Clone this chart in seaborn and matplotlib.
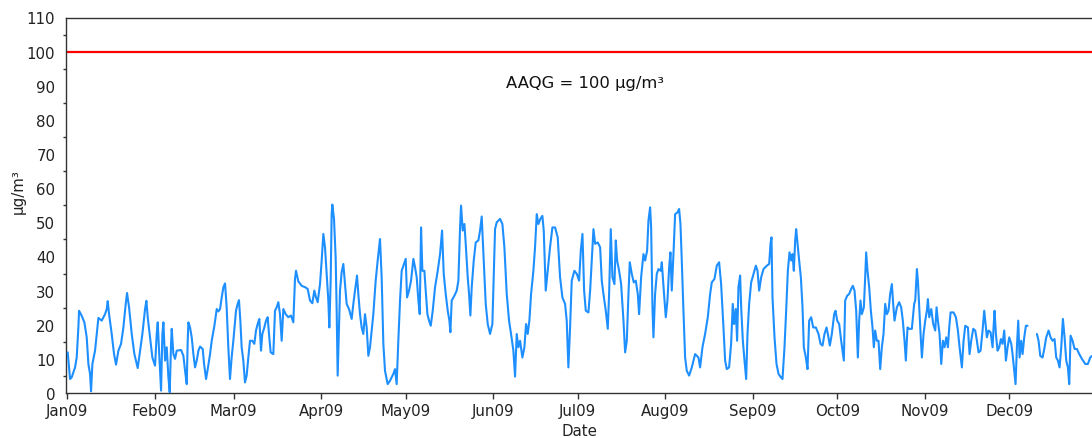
import numpy as np
import pandas as pd
import matplotlib
matplotlib.use("Agg")
import matplotlib.pyplot as plt
import matplotlib.dates as mdates
from matplotlib.ticker import MultipleLocator
import seaborn as sns

year_start = pd.Timestamp("2009-01-01")

# Day of year (0 = 1 Jan 2009, 00:00) and 24-hour mean concentration in µg/m³.
# A NaN marks the stretch in December with no valid readings.
day_of_year = [
    0.13, 0.96, 1.55, 2.73, 3.32, 3.91, 4.15, 5.10, 6.04, 6.87, 7.46, 8.05, 8.41, 8.88,
    9.82, 10.65, 11.01, 12.19, 13.37, 13.96, 14.32, 14.79, 15.73, 16.56, 17.27, 18.10,
    19.04, 19.87, 20.70, 21.17, 21.88, 22.83, 23.77, 24.95, 25.78, 26.61, 27.55, 28.03,
    28.50, 29.33, 30.15, 31.10, 31.69, 32.05, 32.52, 33.23, 33.70, 34.06, 34.65, 35.24,
    35.83, 36.30, 36.77, 37.01, 37.60, 38.19, 38.78, 40.32, 41.15, 41.74, 42.33, 42.68,
    42.92, 43.51, 44.10, 44.69, 45.28, 45.88, 46.47, 47.06, 48.00, 48.48, 49.18, 49.78,
    50.60, 51.19, 52.14, 52.97, 53.56, 54.15, 54.74, 55.33, 55.92,
    56.49, 57.08, 57.67, 58.26, 58.86, 59.80, 60.39, 60.86, 61.34, 61.81, 62.40, 62.99,
    63.58, 64.17, 64.77, 65.59, 66.30, 66.89, 67.48, 68.07, 68.67, 69.14, 69.85, 70.44,
    71.03, 71.50, 72.09, 73.04, 73.63, 74.22, 74.81, 75.40, 76.00, 76.59, 77.41, 78.36,
    79.30, 80.13, 80.72, 81.08, 81.90, 83.09, 84.27, 85.21, 86.04, 86.87, 87.58, 88.17,
    88.76, 89.59, 90.18, 90.77, 91.36, 91.95, 92.54, 92.90, 93.37, 93.72, 93.96, 94.55,
    95.14, 95.50, 95.85, 96.32, 96.68, 97.27, 97.86, 98.45, 99.04, 99.87, 100.82, 101.41,
    102.00, 102.71, 103.18, 103.77, 104.36, 104.95, 105.54, 106.14, 106.73, 107.32,
    107.91, 108.50, 109.33, 110.04, 110.86, 111.45, 112.05, 112.64, 113.58, 114.41,
    115.59, 116.18, 116.77, 117.36, 117.96, 118.55,
    119.16, 119.98, 120.46, 121.16, 121.87, 122.70, 123.29, 123.88, 124.47, 124.95,
    125.42, 125.89, 126.60, 127.07, 127.67, 128.26, 128.85, 129.56, 130.38, 131.33,
    132.16, 132.87, 133.46, 134.17, 134.88, 135.47, 135.82, 136.29, 137.24, 138.07,
    138.66, 139.25, 139.60, 140.19, 140.79, 141.26, 141.97, 142.44, 142.91, 143.39,
    144.10, 144.80, 145.75, 146.34, 146.93, 147.29, 147.88, 148.35, 149.06, 149.89,
    150.71, 151.19, 151.66, 152.25, 153.43, 154.26, 154.97, 155.80, 156.62, 157.33,
    158.16, 158.75, 159.34, 159.93, 160.53, 161.35, 162.06, 162.65, 163.24, 163.83,
    164.43, 165.25, 165.84, 166.44, 167.03, 167.74, 168.44, 168.92, 169.63, 170.34,
    171.16, 171.99, 172.94, 173.88, 174.71, 175.54, 176.48, 177.07, 177.66, 178.26,
    178.85, 179.79,
    180.64, 181.46, 182.06, 182.65, 183.24, 183.83, 184.77, 185.37, 185.96, 186.55,
    187.14, 188.08, 188.91, 189.50, 190.09, 190.92, 191.63, 192.10, 192.69, 193.28,
    193.99, 194.47, 194.94, 195.65, 196.36, 197.19, 197.78, 198.37, 198.96, 199.43,
    200.14, 200.85, 201.56, 202.27, 202.74, 203.45, 204.28, 204.87, 205.58, 206.05,
    206.64, 207.00, 207.47, 207.82, 208.41, 209.01, 209.60, 210.42, 210.78, 211.49,
    212.20, 212.79, 213.38, 213.85, 214.32, 214.92, 215.51, 216.33, 216.92, 217.40,
    217.87, 218.46, 219.05, 219.64, 220.47, 221.42, 222.60, 223.78, 224.37, 225.20,
    226.14, 227.09, 227.92, 228.51, 229.45, 230.28, 231.11, 231.82, 232.65, 233.24,
    233.83, 234.65, 235.36, 235.95, 236.43, 237.02, 237.49, 237.96, 238.56,
    238.93, 239.52, 240.11, 240.70, 241.17, 241.76, 242.47, 243.30, 244.13, 244.72,
    245.31, 246.02, 246.85, 248.03, 248.86, 249.33, 249.68, 250.04, 250.75, 251.46,
    252.17, 252.99, 253.58, 254.29, 254.88, 255.48, 256.07, 256.66, 257.13, 257.60,
    258.08, 258.43, 259.02, 259.49, 260.09, 260.68, 261.15, 261.86, 262.45, 263.04,
    263.75, 264.46, 265.40, 266.35, 267.06, 267.77, 268.48, 269.19, 269.66, 270.37,
    271.08, 271.91, 272.38, 272.97, 273.68, 274.39, 274.86, 275.33, 275.81, 276.52,
    277.22, 277.93, 278.52, 279.12, 279.71, 280.30, 280.77, 281.24, 281.72, 282.43,
    282.90, 283.25, 283.73, 284.32, 284.91, 285.50, 285.97, 286.44, 287.04, 287.63,
    288.22, 288.81, 289.40, 289.99, 290.58, 291.17, 291.76, 292.36, 292.83, 293.30,
    294.13, 294.95, 295.66, 296.25, 296.85, 297.32, 297.91, 298.50, 299.45, 300.27,
    300.65, 301.24, 301.59, 302.06, 302.54, 303.01, 303.60, 304.19, 304.78, 305.14,
    305.61, 306.32, 307.03, 307.74, 308.21, 308.68, 309.27, 309.87, 310.46, 311.05,
    311.64, 312.23, 312.70, 313.18, 314.24, 315.07, 315.78, 316.37, 317.19, 317.79,
    318.38, 319.32, 319.91, 320.50, 321.21, 321.92, 322.51, 323.10, 323.81, 324.52,
    325.11, 325.47, 326.06, 326.65, 327.36, 328.07, 328.42, 328.78, 329.25, 329.84,
    330.43, 331.02, 331.61, 332.21, 332.80, 333.39, 333.98, 334.69, 335.16, 335.87,
    336.22, 336.70, 337.17, 337.64, 338.23, 338.71, 339.30, 339.89, 340.48,
    342.00,
    343.79, 344.38, 344.97, 345.80, 346.51, 347.10, 347.93, 348.64, 349.34, 350.05,
    350.64, 351.24, 351.83, 352.42, 353.01, 353.60, 354.19, 354.78, 355.25, 355.73,
    356.44, 357.15, 357.97, 358.80, 359.75, 360.93, 361.87, 362.70, 363.41,
]

concentration = [
    11.9, 4.1, 4.6, 7.5, 10.4, 19.2, 24.1, 22.6, 20.7, 16.3, 8.5, 5.6, 0.5, 8.5,
    12.4, 19.2, 22.0, 21.2, 23.1, 24.6, 26.9, 23.1, 17.3, 11.4, 8.3, 12.4,
    14.4, 19.2, 26.1, 29.3, 25.1, 17.3, 11.4, 7.3, 12.4, 17.3, 24.6, 27.0,
    22.2, 16.3, 10.4, 8.0, 17.3, 20.7, 12.4, 0.7, 17.3, 20.7, 9.5, 13.4,
    4.6, 0.2, 14.4, 18.8, 11.4, 10.0, 12.4, 12.6, 10.9, 6.5, 2.6, 15.3,
    20.7, 19.2, 16.3, 11.4, 7.5, 9.5, 12.4, 13.6, 12.9, 8.5, 4.1, 7.0,
    11.4, 15.3, 19.7, 24.6, 23.9, 24.6, 28.0, 31.0, 32.1,
    25.1, 13.4, 4.1, 10.4, 15.3, 24.1, 26.1, 27.2, 21.2, 13.4, 9.5, 3.1,
    5.1, 10.4, 15.3, 15.3, 14.4, 18.3, 20.2, 21.7, 12.4, 17.3, 19.2, 21.2,
    22.2, 17.3, 11.9, 11.4, 24.1, 25.1, 26.6, 23.1, 15.3, 24.6, 23.1, 22.2,
    22.7, 20.7, 33.4, 35.8, 32.7, 31.4, 31.0, 30.5, 27.1, 26.3, 30.0, 28.0,
    26.6, 31.9, 38.8, 46.6, 42.7, 34.9, 27.1, 19.2, 32.9, 52.4, 55.2, 51.0,
    39.7, 24.1, 5.1, 19.2, 30.0, 35.4, 37.8, 31.9, 26.1, 24.6, 21.7, 26.1,
    30.0, 34.4, 29.0, 23.1, 19.2, 17.3, 23.1, 19.2, 10.9, 13.4,
    18.3, 23.1, 32.9, 38.8, 45.1, 33.9, 14.4, 6.5, 2.6, 3.6,
    5.6, 7.0, 2.6, 15.3, 27.1, 35.8,
    37.3, 39.3, 28.0, 30.0, 32.9, 39.3, 36.8, 33.9, 27.1, 23.1,
    48.5, 35.8, 35.8, 30.0, 23.1, 21.2, 19.7, 24.1, 31.0, 35.8,
    40.7, 47.6, 34.9, 29.0, 24.1, 21.2, 17.8, 27.1, 28.5, 30.0,
    32.9, 48.5, 54.9, 47.6, 49.5, 43.7, 33.9, 29.0, 22.7, 31.0,
    38.8, 44.1, 44.7, 47.6, 51.7, 45.1, 33.9, 26.1, 20.2, 17.3,
    20.2, 33.9, 48.0, 50.0, 51.0, 49.5, 42.7, 29.0, 21.2, 17.3,
    12.4, 4.8, 17.3, 13.4, 15.3, 10.4, 13.4, 20.2, 17.3, 21.2,
    29.0, 35.8, 42.7, 52.4, 49.5, 51.0, 51.9, 47.6, 30.0, 35.8,
    42.7, 48.5, 48.5, 45.6, 33.9, 28.0, 26.1, 21.2, 7.5, 19.2,
    32.9, 35.8,
    34.9, 32.9, 41.7, 46.6, 30.0, 24.1, 23.6, 30.0, 38.8, 48.0,
    43.7, 44.1, 42.7, 32.9, 29.0, 24.1, 18.8, 29.0, 48.0, 33.9,
    31.9, 44.7, 38.8, 35.8, 31.9, 21.2, 11.9, 15.3, 29.0, 38.3,
    34.9, 32.4, 32.9, 29.0, 23.1, 33.9, 40.7, 38.8, 41.7, 50.5,
    54.4, 48.5, 25.1, 16.3, 29.0, 34.9, 36.3, 35.8, 38.3, 30.0,
    22.2, 27.1, 36.8, 41.2, 30.0, 40.7, 52.4, 52.9, 53.9, 49.5,
    38.8, 24.1, 10.4, 6.5, 5.1, 7.5, 11.4, 10.4, 7.5, 13.4,
    17.3, 22.2, 29.0, 32.4, 33.4, 37.3, 38.3, 31.9, 19.2, 9.5,
    7.0, 7.5, 14.4, 26.1, 20.2, 24.6, 15.3, 31.0, 34.4,
    25.1, 15.3, 9.5, 4.1, 17.3, 26.1, 32.4, 34.9, 37.3, 35.8,
    30.0, 33.9, 36.3, 37.3, 37.8, 43.7, 45.6, 28.0, 16.3, 8.5,
    5.6, 4.6, 4.1, 13.4, 24.1, 35.8, 41.2, 38.8, 40.7, 35.8,
    44.7, 48.0, 42.7, 38.8, 33.9, 25.1, 13.4, 10.4, 7.0, 21.2,
    22.2, 19.2, 19.2, 17.3, 14.4, 13.9, 17.3, 19.2, 17.3, 13.9,
    17.3, 23.1, 24.1, 21.2, 20.2, 15.3, 12.4, 9.5, 27.1, 28.5,
    29.0, 30.5, 31.4, 30.0, 24.1, 10.4, 21.2, 27.1, 23.1, 25.1,
    33.9, 41.2, 35.8, 31.0, 24.1, 19.2, 13.4, 18.3, 15.3, 15.3,
    7.0, 13.4, 17.3, 26.1, 23.1, 24.1, 29.0, 31.9, 26.1, 21.2,
    25.1, 26.6, 25.1, 21.2, 15.3, 9.5, 19.2, 18.8, 18.8, 26.1,
    27.1, 36.3, 32.9, 25.1, 17.3, 10.4, 17.3, 21.2, 24.1, 27.5,
    22.2, 24.6, 20.2, 18.3, 25.1, 21.2, 17.3, 8.5, 15.3, 13.4,
    16.3, 13.4, 19.2, 23.6, 23.6, 22.2, 18.3, 13.4, 7.5, 15.3,
    19.7, 19.2, 11.4, 15.3, 18.8, 18.3, 15.3, 11.9, 12.4, 18.3,
    24.1, 21.2, 16.3, 18.3, 17.8, 13.4, 19.2, 24.1, 17.3, 12.4,
    13.4, 15.8, 14.4, 18.3, 9.5, 13.4, 16.3, 14.4, 11.4, 5.6,
    2.6, 13.4, 21.2, 10.4, 15.3, 11.4, 16.3, 19.7, 19.7,
    np.nan,
    17.3, 15.3, 10.9, 10.4, 13.4, 16.3, 18.3, 16.3, 15.3, 15.8,
    10.4, 9.5, 7.5, 13.4, 21.7, 16.3, 9.5, 7.5, 2.6, 16.8,
    15.3, 12.9, 12.9, 11.4, 10.0, 8.5, 8.5, 10.4, 10.9,
]

guideline_value = 100
guideline_label = "AAQG = 100 µg/m³"
guideline_label_day = 183.7
guideline_label_level = 91.1
month_starts = pd.date_range("2009-01-01", "2009-12-01", freq="MS")
y_major_ticks = list(range(0, 111, 10))

sns.set_style("white")
plt.rcParams["font.family"] = ["DejaVu Sans"]

readings = pd.DataFrame({
    "Date": year_start + pd.to_timedelta(day_of_year, unit="D"),
    "value": concentration,
})
# split the series where readings are missing so the gap stays open
readings["segment"] = readings["value"].isna().cumsum()
readings = readings.dropna()

W, H = 1092, 439
fig = plt.figure(figsize=(W / 100, H / 100), dpi=100)
ax = fig.add_axes([65.7 / W, 45 / H, 1028.2 / W, 375.5 / H])

ax.axhline(guideline_value, color="#ff0000", lw=1.6, zorder=2)

sns.lineplot(
    data=readings, x="Date", y="value", units="segment", estimator=None,
    color="#1e8fff", lw=1.5, legend=False, ax=ax, zorder=3,
)

ax.text(
    year_start + pd.Timedelta(days=guideline_label_day), guideline_label_level,
    guideline_label, ha="center", va="center", fontsize=11.8, color="#111111",
)

ax.set_xlim(year_start - pd.Timedelta(hours=14), year_start + pd.Timedelta(days=364))
ax.set_ylim(0, 110)

ax.set_xticks(month_starts)
ax.xaxis.set_major_formatter(mdates.DateFormatter("%b%y"))
ax.set_yticks(y_major_ticks)
ax.yaxis.set_minor_locator(MultipleLocator(5))

text_color = "#222222"
ax.tick_params(axis="both", which="major", direction="out", length=4.5, width=1,
               color="#333333", labelsize=10.8, labelcolor=text_color, pad=3)
ax.tick_params(axis="y", which="minor", direction="out", length=2.5, width=1,
               color="#333333", left=True)
ax.tick_params(axis="x", which="both", bottom=True)

for side in ("left", "bottom", "top"):
    ax.spines[side].set_visible(True)
    ax.spines[side].set_color("#333333")
    ax.spines[side].set_linewidth(1)
ax.spines["right"].set_visible(False)

ax.set_xlabel("Date", fontsize=10.8, color=text_color, labelpad=3)
ax.set_ylabel("µg/m³", fontsize=10.8, color=text_color)
ax.yaxis.set_label_coords(-0.0385, 0.54)

fig.savefig("out.png", dpi=100)
